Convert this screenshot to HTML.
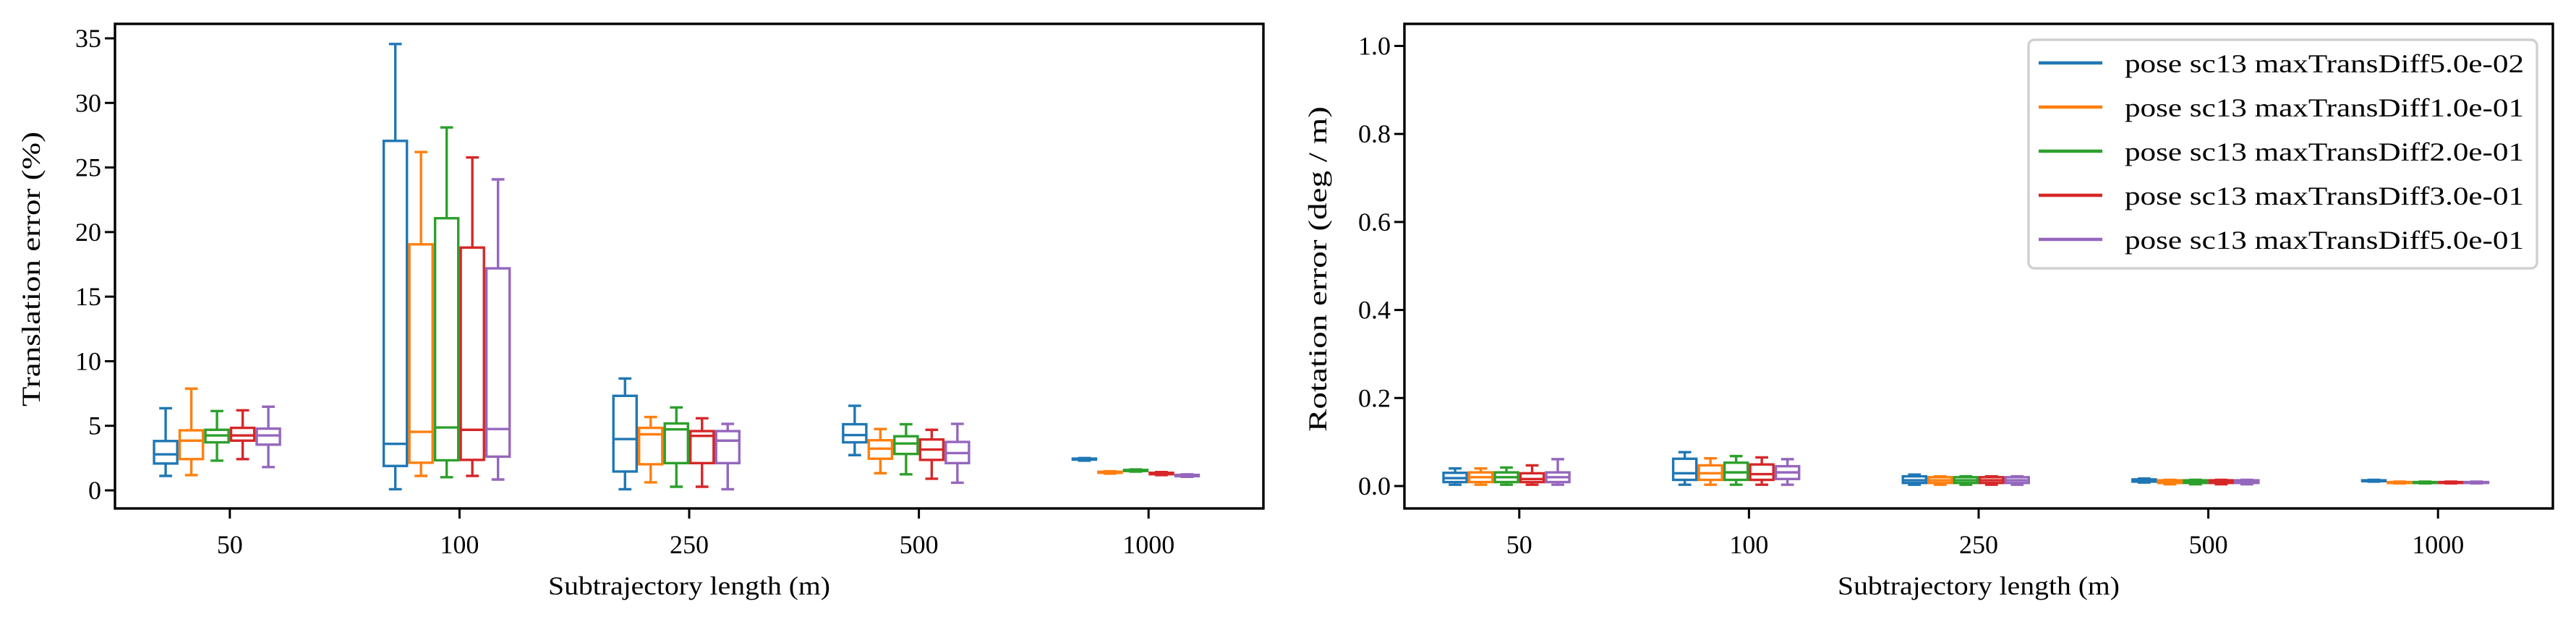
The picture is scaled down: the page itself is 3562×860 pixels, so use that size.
<!DOCTYPE html>
<html><head><meta charset="utf-8"><style>
html,body{margin:0;padding:0;background:#fff}
svg{display:block}
text{font-family:"Liberation Serif",serif;fill:#000}
</style></head><body>
<svg id="chart" width="3562" height="860" viewBox="0 0 3562 860" xmlns="http://www.w3.org/2000/svg"></svg>
<script>
const categories = ["50","100","250","500","1000"];
const seriesNames = ["pose sc13 maxTransDiff5.0e-02","pose sc13 maxTransDiff1.0e-01","pose sc13 maxTransDiff2.0e-01","pose sc13 maxTransDiff3.0e-01","pose sc13 maxTransDiff5.0e-01"];
const colors = ["#1f77b4","#ff7f0e","#2ca02c","#d62728","#9467bd"];
// translation error: [series][category] = [low, q1, median, q3, high]
const transS0 = [[1.12,2.08,2.79,3.82,6.36],[0.09,1.89,3.6,27.06,34.56],[0.09,1.46,3.97,7.32,8.66],[2.73,3.72,4.28,5.12,6.55],[2.3,2.38,2.42,2.46,2.5]];
const transS1 = [[1.18,2.42,3.85,4.65,7.88],[1.12,2.14,4.53,19.05,26.2],[0.62,2.02,4.34,4.84,5.68],[1.33,2.45,3.23,3.88,4.75],[1.3,1.36,1.4,1.44,1.48]];
const transS2 = [[2.3,3.72,4.25,4.69,6.14],[1.02,2.33,4.87,21.07,28.1],[0.28,2.11,4.72,5.18,6.42],[1.24,2.82,3.63,4.19,5.12],[1.45,1.5,1.55,1.58,1.62]];
const transS3 = [[2.42,3.85,4.25,4.84,6.2],[1.12,2.36,4.69,18.8,25.78],[0.28,2.11,4.22,4.59,5.58],[0.9,2.36,3.16,3.94,4.69],[1.18,1.25,1.3,1.36,1.42]];
const transS4 = [[1.8,3.54,4.25,4.78,6.48],[0.84,2.61,4.75,17.19,24.08],[0.09,2.11,3.85,4.59,5.15],[0.59,2.11,2.89,3.75,5.15],[1.05,1.1,1.15,1.2,1.24]];
// rotation error
const rotS0 = [[0.003,0.009,0.018,0.030,0.040],[0.003,0.014,0.029,0.062,0.077],[0.003,0.007,0.013,0.022,0.026],[0.008,0.010,0.013,0.015,0.017],[0.010,0.011,0.012,0.013,0.014]];
const rotS1 = [[0.003,0.009,0.020,0.031,0.040],[0.003,0.014,0.029,0.047,0.063],[0.003,0.007,0.013,0.020,0.022],[0.004,0.007,0.011,0.013,0.014],[0.006,0.007,0.008,0.009,0.010]];
const rotS2 = [[0.003,0.009,0.020,0.031,0.042],[0.003,0.014,0.031,0.053,0.068],[0.003,0.007,0.013,0.020,0.022],[0.004,0.007,0.011,0.013,0.014],[0.006,0.007,0.008,0.009,0.010]];
const rotS3 = [[0.003,0.009,0.016,0.029,0.047],[0.003,0.014,0.027,0.049,0.065],[0.003,0.007,0.013,0.020,0.022],[0.004,0.007,0.011,0.013,0.014],[0.006,0.007,0.008,0.009,0.010]];
const rotS4 = [[0.003,0.009,0.020,0.031,0.061],[0.003,0.016,0.031,0.045,0.061],[0.003,0.007,0.013,0.020,0.022],[0.004,0.007,0.011,0.013,0.014],[0.006,0.007,0.008,0.009,0.010]];
const transTicks = [0,5,10,15,20,25,30,35];
const rotTicks = [0.0,0.2,0.4,0.6,0.8,1.0];
const rotTickLabels = ["0.0","0.2","0.4","0.6","0.8","1.0"];

const NS="http://www.w3.org/2000/svg";
const svg=document.getElementById('chart');
function mk(tag,attrs,parent){const e=document.createElementNS(NS,tag);for(const k in attrs)e.setAttribute(k,attrs[k]);(parent||svg).appendChild(e);return e;}

function panel(opt){
  const g=mk('g',{});
  
  
  const L=opt.left,R=opt.left+1588,T=33,B=703;
  const yScale=v=>opt.y0-(v)*opt.ppu;
  const xScale=i=>L+(R-L)*(i+0.5)/categories.length;
  const bw=35.5;
  // boxes
  opt.data.forEach((ser,si)=>{
    const sg=mk('g',{},g);
    
    
    ser.forEach((d,ci)=>{
      const cx=xScale(ci)+(si-2)*bw-bw/2+bw/2 - bw + bw; // center offset
      const c=xScale(ci)+(si-3)*bw+bw/2;
      const [lo,q1,md,q3,hi]=d.map(yScale);
      const col=colors[si];
      const bg=mk('g',{stroke:col,'stroke-width':3.4,fill:'none'},sg);
      
      
      mk('rect',{x:c-bw/2+1.7,y:q3,width:bw-3.4,height:Math.max(q1-q3,0.5)},bg);
      mk('line',{x1:c-bw/2+1.7,x2:c+bw/2-1.7,y1:md,y2:md},bg);
      mk('line',{x1:c,x2:c,y1:q1,y2:lo},bg);
      mk('line',{x1:c,x2:c,y1:q3,y2:hi},bg);
      mk('line',{x1:c-bw/4,x2:c+bw/4,y1:lo,y2:lo},bg);
      mk('line',{x1:c-bw/4,x2:c+bw/4,y1:hi,y2:hi},bg);
    });
  });
  // frame
  const f=mk('rect',{x:L,y:T,width:R-L,height:B-T,fill:'none',stroke:'#000','stroke-width':3.4},g);
  
  
  // y ticks
  opt.ticks.forEach((t,i)=>{
    const y=yScale(t);
    mk('line',{x1:L-14,x2:L,y1:y,y2:y,stroke:'#000','stroke-width':3},g);
    const tx=mk('text',{x:L-19,y:y+12,'font-size':36,'text-anchor':'end'},g);
    tx.textContent=opt.tickLabels[i];
    
    
  });
  // x ticks
  categories.forEach((c,i)=>{
    const x=xScale(i);
    mk('line',{x1:x,x2:x,y1:B,y2:B+14,stroke:'#000','stroke-width':3},g);
    const tx=mk('text',{x:x,y:765,'font-size':36,'text-anchor':'middle'},g);
    tx.textContent=c;
    
    
  });
  const xl=mk('text',{x:(L+R)/2,y:822,'font-size':36,'text-anchor':'middle',textLength:390,lengthAdjust:'spacingAndGlyphs'},g);
  xl.textContent='Subtrajectory length (m)';
  
  
  const yl=mk('text',{x:0,y:0,'font-size':36,'text-anchor':'middle',transform:`translate(${opt.ylx},${opt.yly}) rotate(-90)`,textLength:opt.ylLen,lengthAdjust:'spacingAndGlyphs'},g);
  yl.textContent=opt.ylabel;
  
  
}

panel({name:'translation-error-panel',left:159,y0:678,ppu:(678-53)/35,
  data:[transS0,transS1,transS2,transS3,transS4],ticks:transTicks,tickLabels:transTicks.map(String),
  ylabel:'Translation error (%)',ylx:55,yly:372,ylLen:380});
panel({name:'rotation-error-panel',left:1942,y0:672,ppu:672-63.5,
  data:[rotS0,rotS1,rotS2,rotS3,rotS4],ticks:rotTicks,tickLabels:rotTickLabels,
  ylabel:'Rotation error (deg / m)',ylx:1834,yly:372,ylLen:450});

// legend
const lg=mk('g',{});


mk('rect',{x:2805,y:55,width:703,height:316,rx:8,fill:'#fff',stroke:'#d0d0d0','stroke-width':3.4},lg);
seriesNames.forEach((n,i)=>{
  const y=87+i*61;
  const e=mk('g',{},lg);
  
  
  mk('line',{x1:2819,x2:2907,y1:y,y2:y,stroke:colors[i],'stroke-width':4.5},e);
  const t=mk('text',{x:2938,y:y+13,'font-size':36,textLength:552,lengthAdjust:'spacingAndGlyphs'},e);
  t.textContent=n;
});
</script>
</body></html>
